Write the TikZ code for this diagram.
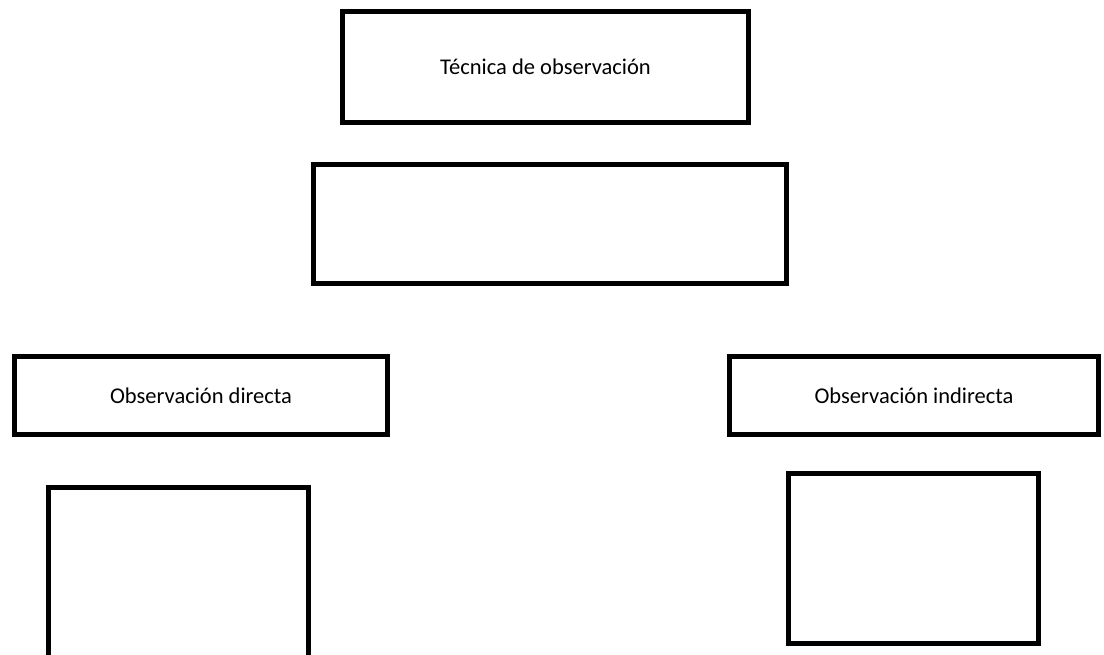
\documentclass[tikz,border=0pt]{standalone}
\usepackage{fontspec}
\setmainfont{Carlito}

\begin{document}
\begin{tikzpicture}[x=0.025cm,y=-0.025cm,
		box/.style={draw,line width=0.125cm,inner sep=0pt,font=\fontsize{16}{19}\selectfont}]
		        \useasboundingbox (0,0) rectangle (1104,654);
		        \clip (0,0) rectangle (1104,654);
		        
		        \node[box, minimum width=10.15cm, minimum height=2.775cm] (tecnica) at (545.5,67) {Técnica de observación};
		        \node[box, minimum width=11.825cm, minimum height=2.975cm] (definicion) at (550,224) {};
		        
		        \node[box, minimum width=9.325cm, minimum height=1.95cm] (directa) at (201,395.5) {Observación directa};
		        \node[box, minimum width=9.225cm, minimum height=1.95cm] (indirecta) at (914,395.5) {Observación indirecta};
		        
		        \node[box, minimum width=6.5cm, minimum height=5cm] (ejdirecta) at (178.5,587.5) {};
		        \node[box, minimum width=6.25cm, minimum height=4.25cm] (ejindirecta) at (913.5,558.5) {};
		    \end{tikzpicture}
\end{document}
